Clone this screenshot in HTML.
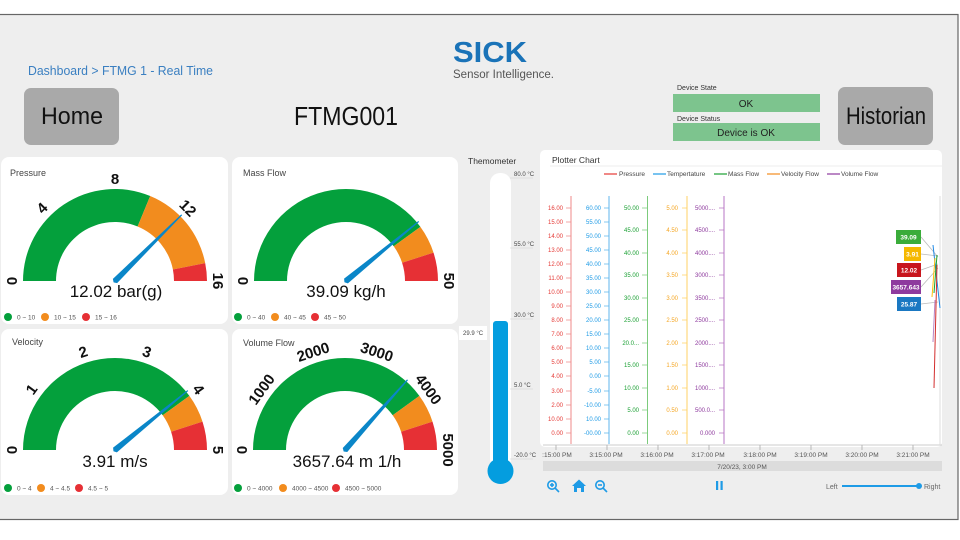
<!DOCTYPE html>
<html><head><meta charset="utf-8"><style>
html,body{margin:0;padding:0;background:#fff;}
svg{display:block;font-family:"Liberation Sans",sans-serif;}
</style></head><body>
<svg width="960" height="540" viewBox="0 0 960 540" xmlns="http://www.w3.org/2000/svg">
<rect x="0" y="0" width="960" height="540" fill="#fff"/>
<rect x="-2" y="14.5" width="960" height="505" fill="#eeeeee" stroke="#666" stroke-width="1.2"/>

<!-- header -->
<text x="28" y="75" font-size="13" fill="#3a7fc1" textLength="185" lengthAdjust="spacingAndGlyphs">Dashboard &gt; FTMG 1 - Real Time</text>
<text x="453" y="62" font-size="29" font-weight="bold" fill="#1a73b8" textLength="74" lengthAdjust="spacingAndGlyphs">SICK</text>
<text x="453" y="78" font-size="11.5" fill="#555">Sensor Intelligence.</text>
<rect x="24" y="88" width="95" height="57" rx="7" fill="#a9a9a9"/>
<text x="41" y="124" font-size="24" fill="#111" textLength="62" lengthAdjust="spacingAndGlyphs">Home</text>
<text x="294" y="125" font-size="26" fill="#111" textLength="104" lengthAdjust="spacingAndGlyphs">FTMG001</text>
<text x="677" y="90" font-size="7" fill="#333">Device State</text>
<rect x="673" y="94" width="147" height="18" fill="#7dc48e"/>
<text x="746" y="107" font-size="10" text-anchor="middle" fill="#222">OK</text>
<text x="677" y="121" font-size="7" fill="#333">Device Status</text>
<rect x="673" y="123" width="147" height="18" fill="#7dc48e"/>
<text x="746" y="136" font-size="10" text-anchor="middle" fill="#222">Device is OK</text>
<rect x="838" y="87" width="95" height="58" rx="7" fill="#a9a9a9"/>
<text x="846" y="124" font-size="24" fill="#111" textLength="80" lengthAdjust="spacingAndGlyphs">Historian</text>

<!-- cards -->
<rect x="1" y="157" width="227" height="167" rx="8" fill="#fff"/>
<rect x="232" y="157" width="226" height="167" rx="8" fill="#fff"/>
<rect x="1" y="329" width="227" height="166" rx="8" fill="#fff"/>
<rect x="232" y="329" width="226" height="166" rx="8" fill="#fff"/>
<text x="10" y="176" font-size="9" fill="#444">Pressure</text>
<text x="243" y="176" font-size="9" fill="#444">Mass Flow</text>
<text x="12" y="345" font-size="9" fill="#444">Velocity</text>
<text x="243" y="346" font-size="9" fill="#444">Volume Flow</text>

<!-- Pressure gauge -->
<g transform="translate(115,281)">
<path d="M-92 0 A92 92 0 0 1 35.2 -85 L22.6 -54.5 A59 59 0 0 0 -59 0Z" fill="#04a03c"/>
<path d="M35.2 -85 A92 92 0 0 1 90.2 -17.9 L57.9 -11.5 A59 59 0 0 0 22.6 -54.5Z" fill="#f28c1e"/>
<path d="M90.2 -17.9 A92 92 0 0 1 92 0 L59 0 A59 59 0 0 0 57.9 -11.5Z" fill="#e63035"/>
<g transform="rotate(-44.8)"><polygon points="0,-3 94,-0.6 94,0.6 0,3 -2,0" fill="#0a86c8"/></g>
<g font-size="15" font-weight="bold" text-anchor="middle" fill="#111">
<text transform="rotate(-90)" x="0" y="-98">0</text>
<text transform="rotate(-45)" x="0" y="-98">4</text>
<text x="0" y="-97">8</text>
<text transform="rotate(45)" x="0" y="-98">12</text>
<text transform="rotate(90)" x="0" y="-98">16</text>
</g>
<text x="1" y="16" font-size="17" text-anchor="middle" fill="#111">12.02 bar(g)</text>
</g>
<g font-size="6.5" fill="#555">
<circle cx="8" cy="317" r="4" fill="#04a03c"/><text x="17" y="319.5">0 ~ 10</text>
<circle cx="45" cy="317" r="4" fill="#f28c1e"/><text x="54" y="319.5">10 ~ 15</text>
<circle cx="86" cy="317" r="4" fill="#e63035"/><text x="95" y="319.5">15 ~ 16</text>
</g>

<!-- Mass flow gauge -->
<g transform="translate(346,281)">
<path d="M-92 0 A92 92 0 0 1 74.4 -54.1 L47.7 -34.7 A59 59 0 0 0 -59 0Z" fill="#04a03c"/>
<path d="M74.4 -54.1 A92 92 0 0 1 87.5 -28.4 L56.1 -18.2 A59 59 0 0 0 47.7 -34.7Z" fill="#f28c1e"/>
<path d="M87.5 -28.4 A92 92 0 0 1 92 0 L59 0 A59 59 0 0 0 56.1 -18.2Z" fill="#e63035"/>
<g transform="rotate(-39.3)"><polygon points="0,-3 94,-0.6 94,0.6 0,3 -2,0" fill="#0a86c8"/></g>
<g font-size="15" font-weight="bold" text-anchor="middle" fill="#111">
<text transform="rotate(-90)" x="0" y="-98">0</text>
<text transform="rotate(90)" x="0" y="-98">50</text>
</g>
<text x="0" y="16" font-size="17" text-anchor="middle" fill="#111">39.09 kg/h</text>
</g>
<g font-size="6.5" fill="#555">
<circle cx="238" cy="317" r="4" fill="#04a03c"/><text x="247" y="319.5">0 ~ 40</text>
<circle cx="275" cy="317" r="4" fill="#f28c1e"/><text x="284" y="319.5">40 ~ 45</text>
<circle cx="315" cy="317" r="4" fill="#e63035"/><text x="324" y="319.5">45 ~ 50</text>
</g>

<!-- Velocity gauge -->
<g transform="translate(115,450)">
<path d="M-92 0 A92 92 0 0 1 74.4 -54.1 L47.7 -34.7 A59 59 0 0 0 -59 0Z" fill="#04a03c"/>
<path d="M74.4 -54.1 A92 92 0 0 1 87.5 -28.4 L56.1 -18.2 A59 59 0 0 0 47.7 -34.7Z" fill="#f28c1e"/>
<path d="M87.5 -28.4 A92 92 0 0 1 92 0 L59 0 A59 59 0 0 0 56.1 -18.2Z" fill="#e63035"/>
<g transform="rotate(-39.2)"><polygon points="0,-3 94,-0.6 94,0.6 0,3 -2,0" fill="#0a86c8"/></g>
<g font-size="15" font-weight="bold" text-anchor="middle" fill="#111">
<text transform="rotate(-90)" x="0" y="-98">0</text>
<text transform="rotate(-54)" x="0" y="-98">1</text>
<text transform="rotate(-18)" x="0" y="-98">2</text>
<text transform="rotate(18)" x="0" y="-98">3</text>
<text transform="rotate(54)" x="0" y="-98">4</text>
<text transform="rotate(90)" x="0" y="-98">5</text>
</g>
<text x="0" y="17" font-size="17" text-anchor="middle" fill="#111">3.91 m/s</text>
</g>
<g font-size="6.5" fill="#555">
<circle cx="8" cy="488" r="4" fill="#04a03c"/><text x="17" y="490.5">0 ~ 4</text>
<circle cx="41" cy="488" r="4" fill="#f28c1e"/><text x="50" y="490.5">4 ~ 4.5</text>
<circle cx="79" cy="488" r="4" fill="#e63035"/><text x="88" y="490.5">4.5 ~ 5</text>
</g>

<!-- Volume gauge -->
<g transform="translate(345,450)">
<path d="M-92 0 A92 92 0 0 1 74.4 -54.1 L47.7 -34.7 A59 59 0 0 0 -59 0Z" fill="#04a03c"/>
<path d="M74.4 -54.1 A92 92 0 0 1 87.5 -28.4 L56.1 -18.2 A59 59 0 0 0 47.7 -34.7Z" fill="#f28c1e"/>
<path d="M87.5 -28.4 A92 92 0 0 1 92 0 L59 0 A59 59 0 0 0 56.1 -18.2Z" fill="#e63035"/>
<g transform="rotate(-48.3)"><polygon points="0,-3 94,-0.6 94,0.6 0,3 -2,0" fill="#0a86c8"/></g>
<g font-size="15" font-weight="bold" text-anchor="middle" fill="#111">
<text transform="rotate(-90)" x="0" y="-98">0</text>
<text transform="rotate(-54)" x="0" y="-98">1000</text>
<text transform="rotate(-18)" x="0" y="-98">2000</text>
<text transform="rotate(18)" x="0" y="-98">3000</text>
<text transform="rotate(54)" x="0" y="-98">4000</text>
<text transform="rotate(90)" x="0" y="-98">5000</text>
</g>
<text x="2" y="17" font-size="17" text-anchor="middle" fill="#111">3657.64 m  1/h</text>
</g>
<g font-size="6.5" fill="#555">
<circle cx="238" cy="488" r="4" fill="#04a03c"/><text x="247" y="490.5">0 ~ 4000</text>
<circle cx="283" cy="488" r="4" fill="#f28c1e"/><text x="292" y="490.5">4000 ~ 4500</text>
<circle cx="336" cy="488" r="4" fill="#e63035"/><text x="345" y="490.5">4500 ~ 5000</text>
</g>

<!-- Thermometer -->
<text x="468" y="164" font-size="8.5" fill="#333">Themometer</text>
<rect x="490" y="173" width="21" height="296" rx="10" fill="#fff"/>
<rect x="493" y="321" width="15" height="145" rx="3" fill="#049ddf"/>
<circle cx="500.5" cy="471" r="13" fill="#049ddf"/>
<g font-size="6" fill="#444">
<line x1="510" y1="178" x2="533" y2="178" stroke="#ccc" stroke-width="0.6"/><text x="514" y="176">80.0 °C</text>
<line x1="510" y1="248" x2="533" y2="248" stroke="#ccc" stroke-width="0.6"/><text x="514" y="246">55.0 °C</text>
<line x1="510" y1="319" x2="533" y2="319" stroke="#ccc" stroke-width="0.6"/><text x="514" y="317">30.0 °C</text>
<line x1="510" y1="389" x2="533" y2="389" stroke="#ccc" stroke-width="0.6"/><text x="514" y="387">5.0 °C</text>
<line x1="510" y1="459" x2="533" y2="459" stroke="#ccc" stroke-width="0.6"/><text x="514" y="457">-20.0 °C</text>
<rect x="459" y="326" width="28" height="14" fill="#fff"/><text x="463" y="335">29.9 °C</text>
</g>

<!-- Plotter chart -->
<rect x="540" y="150" width="402" height="297" rx="5" fill="#fff"/>
<line x1="550" y1="166" x2="942" y2="166" stroke="#eee" stroke-width="1"/>
<text x="552" y="163" font-size="8.5" fill="#333">Plotter Chart</text>
<g font-size="6.5" fill="#444">
<line x1="604" y1="174" x2="617" y2="174" stroke="#e53935" stroke-width="1.2"/><text x="619" y="176">Pressure</text>
<line x1="653" y1="174" x2="666" y2="174" stroke="#1e9be6" stroke-width="1.2"/><text x="667" y="176">Tempertature</text>
<line x1="714" y1="174" x2="727" y2="174" stroke="#1aa033" stroke-width="1.2"/><text x="728" y="176">Mass Flow</text>
<line x1="767" y1="174" x2="780" y2="174" stroke="#f28c1e" stroke-width="1.2"/><text x="781" y="176">Velocity Flow</text>
<line x1="827" y1="174" x2="840" y2="174" stroke="#8e3a9e" stroke-width="1.2"/><text x="841" y="176">Volume Flow</text>
</g>
<g stroke-width="1">
<line x1="571" y1="196" x2="571" y2="444" stroke="#ef8a8a"/>
<line x1="609" y1="196" x2="609" y2="444" stroke="#5fb6ee"/>
<line x1="647.5" y1="196" x2="647.5" y2="444" stroke="#7ccb7c"/>
<line x1="687" y1="196" x2="687" y2="444" stroke="#ffd166"/>
<line x1="724" y1="196" x2="724" y2="444" stroke="#b775c4"/>
</g>
<g font-size="6" text-anchor="end" fill="#e53935">
<text x="563" y="210">16.00</text><text x="563" y="224">15.00</text><text x="563" y="238">14.00</text><text x="563" y="252">13.00</text><text x="563" y="266">12.00</text><text x="563" y="280">11.00</text><text x="563" y="294">10.00</text><text x="563" y="308">9.00</text><text x="563" y="322">8.00</text><text x="563" y="336">7.00</text><text x="563" y="350">6.00</text><text x="563" y="364">5.00</text><text x="563" y="378">4.00</text><text x="563" y="393">3.00</text><text x="563" y="407">2.00</text><text x="563" y="421">10.00</text><text x="563" y="435">0.00</text>
</g>
<g stroke="#ef8a8a" stroke-width="0.8"><path d="M566 208H571M566 222H571M566 236H571M566 250H571M566 264H571M566 278H571M566 292H571M566 306H571M566 320H571M566 334H571M566 348H571M566 362H571M566 376H571M566 391H571M566 405H571M566 419H571M566 433H571"/></g>
<g font-size="6" text-anchor="end" fill="#1e9be6">
<text x="601" y="210">60.00</text><text x="601" y="224">55.00</text><text x="601" y="238">50.00</text><text x="601" y="252">45.00</text><text x="601" y="266">40.00</text><text x="601" y="280">35.00</text><text x="601" y="294">30.00</text><text x="601" y="308">25.00</text><text x="601" y="322">20.00</text><text x="601" y="336">15.00</text><text x="601" y="350">10.00</text><text x="601" y="364">5.00</text><text x="601" y="378">0.00</text><text x="601" y="393">-5.00</text><text x="601" y="407">-10.00</text><text x="601" y="421">10.00</text><text x="601" y="435">-00.00</text>
</g>
<g stroke="#5fb6ee" stroke-width="0.8"><path d="M604 208H609M604 222H609M604 236H609M604 250H609M604 264H609M604 278H609M604 292H609M604 306H609M604 320H609M604 334H609M604 348H609M604 362H609M604 376H609M604 391H609M604 405H609M604 419H609M604 433H609"/></g>
<g font-size="6" text-anchor="end" fill="#1aa033">
<text x="639" y="210">50.00</text><text x="639" y="232">45.00</text><text x="639" y="255">40.00</text><text x="639" y="277">35.00</text><text x="639" y="300">30.00</text><text x="639" y="322">25.00</text><text x="639" y="345">20.0...</text><text x="639" y="367">15.00</text><text x="639" y="390">10.00</text><text x="639" y="412">5.00</text><text x="639" y="435">0.00</text>
</g>
<g stroke="#7ccb7c" stroke-width="0.8"><path d="M642 208H647M642 230H647M642 253H647M642 275H647M642 298H647M642 320H647M642 343H647M642 365H647M642 388H647M642 410H647M642 433H647"/></g>
<g font-size="6" text-anchor="end" fill="#f5a623">
<text x="678" y="210">5.00</text><text x="678" y="232">4.50</text><text x="678" y="255">4.00</text><text x="678" y="277">3.50</text><text x="678" y="300">3.00</text><text x="678" y="322">2.50</text><text x="678" y="345">2.00</text><text x="678" y="367">1.50</text><text x="678" y="390">1.00</text><text x="678" y="412">0.50</text><text x="678" y="435">0.00</text>
</g>
<g stroke="#ffd166" stroke-width="0.8"><path d="M682 208H687M682 230H687M682 253H687M682 275H687M682 298H687M682 320H687M682 343H687M682 365H687M682 388H687M682 410H687M682 433H687"/></g>
<g font-size="6" text-anchor="end" fill="#8e3a9e">
<text x="715" y="210">5000....</text><text x="715" y="232">4500....</text><text x="715" y="255">4000....</text><text x="715" y="277">3000....</text><text x="715" y="300">3500....</text><text x="715" y="322">2500....</text><text x="715" y="345">2000....</text><text x="715" y="367">1500....</text><text x="715" y="390">1000....</text><text x="715" y="412">500.0...</text><text x="715" y="435">0.000</text>
</g>
<g stroke="#b775c4" stroke-width="0.8"><path d="M719 208H724M719 230H724M719 253H724M719 275H724M719 298H724M719 320H724M719 343H724M719 365H724M719 388H724M719 410H724M719 433H724"/></g>
<line x1="543" y1="445" x2="942" y2="445" stroke="#ccc" stroke-width="1"/>
<line x1="940" y1="196" x2="940" y2="445" stroke="#ddd" stroke-width="1"/>
<g stroke="#aaa" stroke-width="0.8"><path d="M556 445V450M607 445V450M658 445V450M709 445V450M760 445V450M811 445V450M862 445V450M913 445V450"/></g>
<g font-size="6.5" text-anchor="middle" fill="#555">
<text x="557" y="457">:15:00 PM</text><text x="606" y="457">3:15:00 PM</text><text x="657" y="457">3:16:00 PM</text><text x="708" y="457">3:17:00 PM</text><text x="760" y="457">3:18:00 PM</text><text x="811" y="457">3:19:00 PM</text><text x="862" y="457">3:20:00 PM</text><text x="913" y="457">3:21:00 PM</text>
</g>
<rect x="543" y="461" width="399" height="10" fill="#dcdcdc"/>
<text x="742" y="469" font-size="6.5" text-anchor="middle" fill="#555">7/20/23, 3:00 PM</text>

<!-- series at right -->
<g stroke-width="0.8" stroke="#bbb">
<path d="M921 237L938 257M921 254L938 256M921 270L938 264M921 287L938 268M921 304L938 302"/>
</g>
<line x1="933" y1="245" x2="940" y2="308" stroke="#1e88e5" stroke-width="1"/>
<line x1="937" y1="255" x2="934" y2="293" stroke="#1aa033" stroke-width="1"/>
<line x1="935" y1="258" x2="932" y2="297" stroke="#ffc107" stroke-width="1"/>
<line x1="937" y1="265" x2="934" y2="388" stroke="#d32f2f" stroke-width="1"/>
<line x1="935" y1="300" x2="933" y2="342" stroke="#b785c4" stroke-width="1"/>
<g font-size="6.5" font-weight="bold" fill="#fff" text-anchor="middle">
<rect x="896" y="230" width="25" height="14" fill="#3aac3a"/><text x="908.5" y="239.5">39.09</text>
<rect x="904" y="247" width="17" height="14" fill="#f5b800"/><text x="912.5" y="256.5">3.91</text>
<rect x="897" y="263" width="24" height="14" fill="#c8161d"/><text x="909" y="272.5">12.02</text>
<rect x="891" y="280" width="30" height="14" fill="#8e3a9e"/><text x="906" y="289.5">3657.643</text>
<rect x="897" y="297" width="24" height="14" fill="#1a78c2"/><text x="909" y="306.5">25.87</text>
</g>

<!-- toolbar -->
<g stroke="#1e9be6" stroke-width="1.6" fill="none">
<circle cx="552" cy="485" r="4.2"/><line x1="555" y1="488" x2="559" y2="492"/><line x1="550" y1="485" x2="554" y2="485"/><line x1="552" y1="483" x2="552" y2="487"/>
<circle cx="600" cy="485" r="4.2"/><line x1="603" y1="488" x2="607" y2="492"/><line x1="598" y1="485" x2="602" y2="485"/>
</g>
<path d="M572 486L579 479.5L586 486H584V492H581V488H577V492H574V486Z" fill="#1e9be6"/>
<rect x="716" y="481" width="2.2" height="9" fill="#1e9be6"/><rect x="720.5" y="481" width="2.2" height="9" fill="#1e9be6"/>
<text x="826" y="489" font-size="7" fill="#666">Left</text>
<line x1="842" y1="486" x2="919" y2="486" stroke="#1e9be6" stroke-width="2"/>
<circle cx="919" cy="486" r="3" fill="#1e9be6"/>
<text x="924" y="489" font-size="7" fill="#666">Right</text>
</svg>
</body></html>
